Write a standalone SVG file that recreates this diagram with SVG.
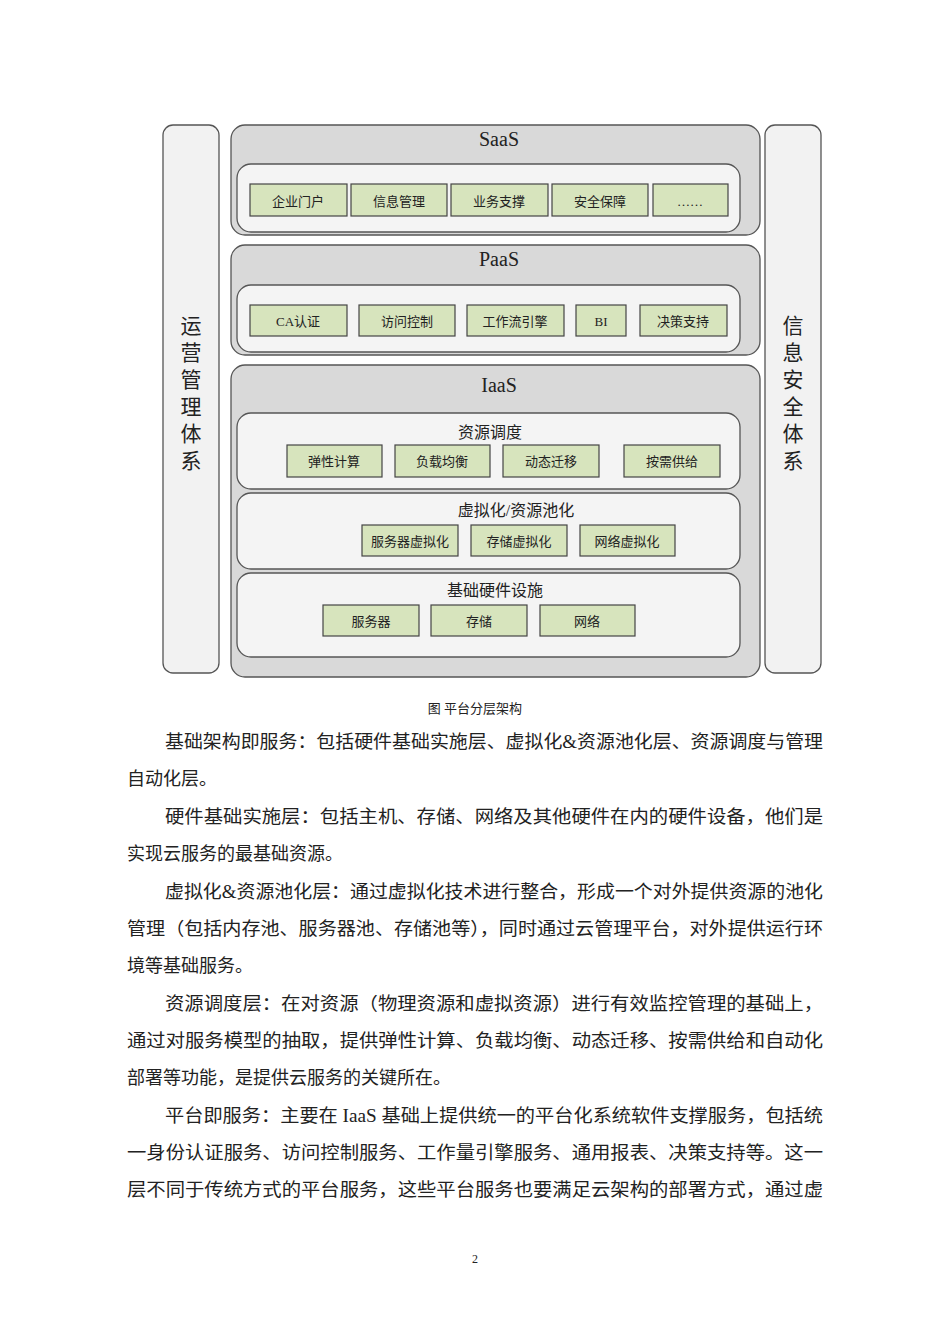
<svg xmlns="http://www.w3.org/2000/svg" width="950" height="1344" viewBox="0 0 950 1344">
<style>
text{font-family:"Liberation Serif","Noto Sans CJK SC",serif;fill:#222}
.side{fill:#f2f2f2;stroke:#555;stroke-width:1.3}
.layer{fill:#d9d9d9;stroke:#555;stroke-width:1.3}
.inner{fill:#f4f4f4;stroke:#555;stroke-width:1.3}
.box{fill:#d7e4bd;stroke:#444;stroke-width:1.2}
.bt{font-size:13px;text-anchor:middle}
.lt{font-size:20px;text-anchor:middle}
.st{font-size:16px;text-anchor:middle}
.vt{font-size:21px;text-anchor:middle}
.p{font-size:18px}
</style>
<rect width="950" height="1344" fill="#fff"/>
<g id="ops"><rect class="side" x="163" y="125" width="56" height="548" rx="10"/>
<text class="vt" x="191" y="333">运</text><text class="vt" x="191" y="360">营</text><text class="vt" x="191" y="387">管</text><text class="vt" x="191" y="414">理</text><text class="vt" x="191" y="441">体</text><text class="vt" x="191" y="468">系</text></g>
<g id="sec"><rect class="side" x="765" y="125" width="56" height="548" rx="10"/>
<text class="vt" x="793" y="333">信</text><text class="vt" x="793" y="360">息</text><text class="vt" x="793" y="387">安</text><text class="vt" x="793" y="414">全</text><text class="vt" x="793" y="441">体</text><text class="vt" x="793" y="468">系</text></g>
<g id="saas"><rect class="layer" x="231" y="125" width="529" height="110" rx="14"/>
<text class="lt" x="499" y="146">SaaS</text>
<rect class="inner" x="237" y="164" width="503" height="68" rx="14"/>
<rect class="box" x="250" y="184" width="97" height="32"/><text class="bt" x="298" y="206">企业门户</text>
<rect class="box" x="351" y="184" width="96" height="32"/><text class="bt" x="399" y="206">信息管理</text>
<rect class="box" x="451" y="184" width="97" height="32"/><text class="bt" x="499" y="206">业务支撑</text>
<rect class="box" x="552" y="184" width="96" height="32"/><text class="bt" x="600" y="206">安全保障</text>
<rect class="box" x="653" y="184" width="75" height="32"/><text class="bt" x="690" y="206">……</text></g>
<g id="paas"><rect class="layer" x="231" y="245" width="529" height="110" rx="14"/>
<text class="lt" x="499" y="266">PaaS</text>
<rect class="inner" x="237" y="285" width="503" height="67" rx="14"/>
<rect class="box" x="250" y="305" width="97" height="31"/><text class="bt" x="298" y="326">CA认证</text>
<rect class="box" x="359" y="305" width="96" height="31"/><text class="bt" x="407" y="326">访问控制</text>
<rect class="box" x="467" y="305" width="97" height="31"/><text class="bt" x="515" y="326">工作流引擎</text>
<rect class="box" x="576" y="305" width="50" height="31"/><text class="bt" x="601" y="326">BI</text>
<rect class="box" x="640" y="305" width="87" height="31"/><text class="bt" x="683" y="326">决策支持</text></g>
<g id="iaas"><rect class="layer" x="231" y="365" width="529" height="312" rx="14"/>
<text class="lt" x="499" y="392">IaaS</text></g>
<g id="sched"><rect class="inner" x="237" y="413" width="503" height="76" rx="14"/>
<text class="st" x="490" y="438">资源调度</text>
<rect class="box" x="287" y="445" width="95" height="32"/><text class="bt" x="334" y="466">弹性计算</text>
<rect class="box" x="395" y="445" width="95" height="32"/><text class="bt" x="442" y="466">负载均衡</text>
<rect class="box" x="503" y="445" width="96" height="32"/><text class="bt" x="551" y="466">动态迁移</text>
<rect class="box" x="624" y="445" width="96" height="32"/><text class="bt" x="672" y="466">按需供给</text></g>
<g id="virt"><rect class="inner" x="237" y="493" width="503" height="76" rx="14"/>
<text class="st" x="516" y="516">虚拟化/资源池化</text>
<rect class="box" x="362" y="525" width="96" height="31"/><text class="bt" x="410" y="546">服务器虚拟化</text>
<rect class="box" x="471" y="525" width="96" height="31"/><text class="bt" x="519" y="546">存储虚拟化</text>
<rect class="box" x="580" y="525" width="95" height="31"/><text class="bt" x="627" y="546">网络虚拟化</text></g>
<g id="hw"><rect class="inner" x="237" y="573" width="503" height="84" rx="14"/>
<text class="st" x="495" y="596">基础硬件设施</text>
<rect class="box" x="323" y="605" width="96" height="31"/><text class="bt" x="371" y="626">服务器</text>
<rect class="box" x="431" y="605" width="96" height="31"/><text class="bt" x="479" y="626">存储</text>
<rect class="box" x="540" y="605" width="95" height="31"/><text class="bt" x="587" y="626">网络</text></g>
<g id="connectors"/>
<text x="475" y="713" font-size="13" text-anchor="middle">图  平台分层架构</text>
<g class="body">
<text class="p" x="165" y="748" textLength="658" lengthAdjust="spacingAndGlyphs">基础架构即服务：包括硬件基础实施层、虚拟化&amp;资源池化层、资源调度与管理</text>
<text class="p" x="127" y="785">自动化层。</text>
<text class="p" x="165" y="823" textLength="658" lengthAdjust="spacingAndGlyphs">硬件基础实施层：包括主机、存储、网络及其他硬件在内的硬件设备，他们是</text>
<text class="p" x="127" y="860">实现云服务的最基础资源。</text>
<text class="p" x="165" y="898" textLength="658" lengthAdjust="spacingAndGlyphs">虚拟化&amp;资源池化层：通过虚拟化技术进行整合，形成一个对外提供资源的池化</text>
<text class="p" x="127" y="935" textLength="696" lengthAdjust="spacingAndGlyphs">管理（包括内存池、服务器池、存储池等），同时通过云管理平台，对外提供运行环</text>
<text class="p" x="127" y="972">境等基础服务。</text>
<text class="p" x="165" y="1010" textLength="658" lengthAdjust="spacingAndGlyphs">资源调度层：在对资源（物理资源和虚拟资源）进行有效监控管理的基础上，</text>
<text class="p" x="127" y="1047" textLength="696" lengthAdjust="spacingAndGlyphs">通过对服务模型的抽取，提供弹性计算、负载均衡、动态迁移、按需供给和自动化</text>
<text class="p" x="127" y="1084">部署等功能，是提供云服务的关键所在。</text>
<text class="p" x="165" y="1122" textLength="658" lengthAdjust="spacingAndGlyphs">平台即服务：主要在 IaaS 基础上提供统一的平台化系统软件支撑服务，包括统</text>
<text class="p" x="127" y="1159" textLength="696" lengthAdjust="spacingAndGlyphs">一身份认证服务、访问控制服务、工作量引擎服务、通用报表、决策支持等。这一</text>
<text class="p" x="127" y="1196" textLength="696" lengthAdjust="spacingAndGlyphs">层不同于传统方式的平台服务，这些平台服务也要满足云架构的部署方式，通过虚</text>
</g>
<text x="475" y="1263" font-size="12" text-anchor="middle">2</text>
</svg>
